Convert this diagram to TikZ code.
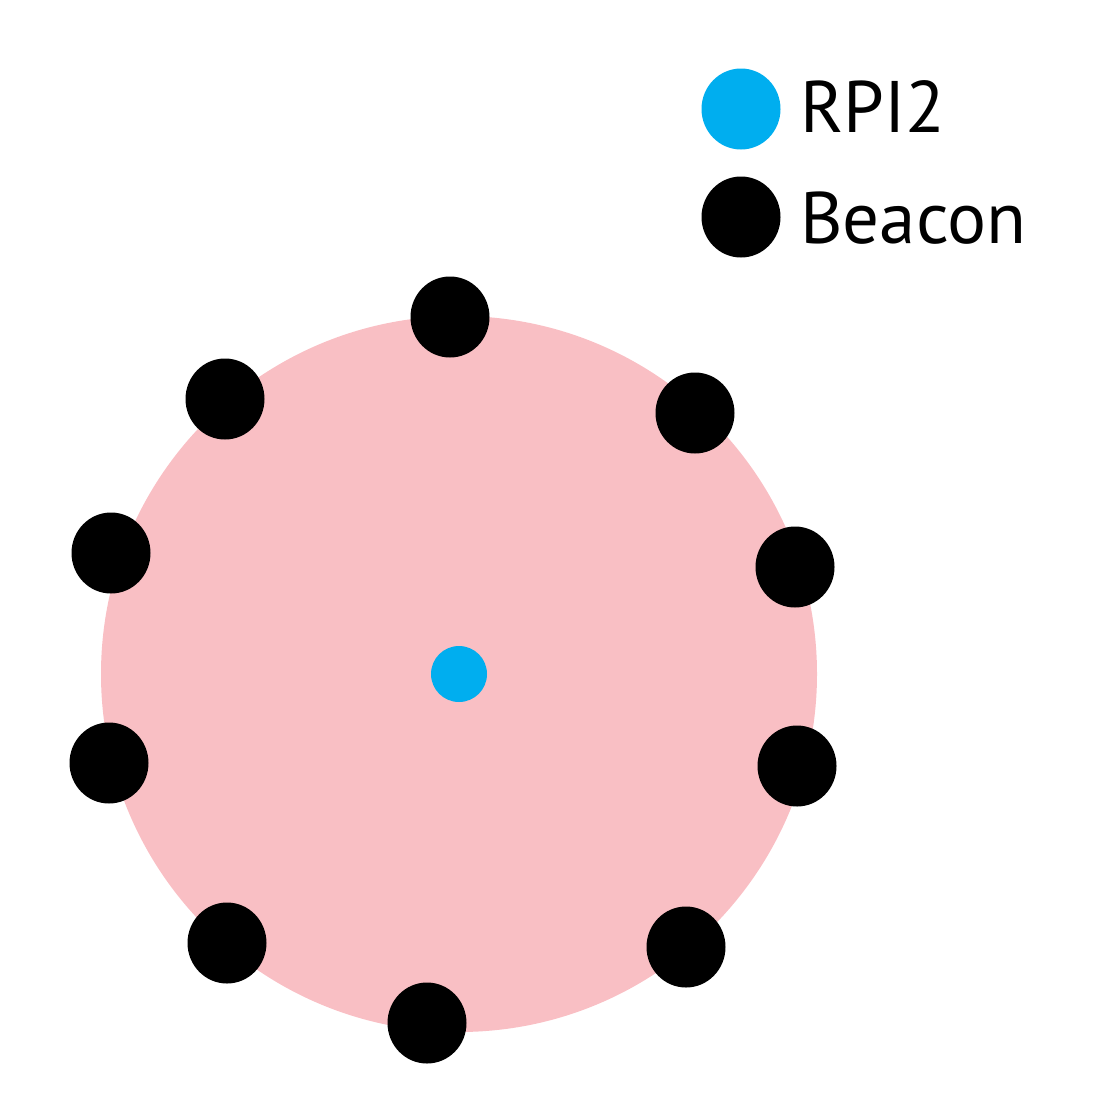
\documentclass[tikz,border=0pt]{standalone}
\usepackage{fontspec}
\setmainfont{PT Sans}
\usepackage{tikz}
\usetikzlibrary{positioning,shapes.geometric}
\definecolor{zonepink} {HTML}{F9BFC4}
\definecolor{rpiblue}  {HTML}{00AEEF}
\tikzset{
  every node/.style={font=\fontsize{73}{80}\selectfont},
  % --- nodes
  zone/.style   = {circle, fill=zonepink, minimum size=716pt, inner sep=0pt},
  blob/.style   = {ellipse, minimum width=79pt, minimum height=81pt, inner sep=0pt},
  beacon/.style = {blob, fill=black},
  rpi/.style    = {circle, fill=rpiblue, minimum size=56pt, inner sep=0pt},
  lgd/.style    = {anchor=base west, inner sep=0pt},
}
\begin{document}
\begin{tikzpicture}[x=1pt, y=-1pt]
  \useasboundingbox (0,0) rectangle (1118,1100);

  \node[zone] (zone) at (459,674) {};
  \node[rpi] (rpi) at (459,674) {};

  % --- beacons round the zone
  \foreach \name/\px/\py in {b1/450/317, b2/225/399, b3/111/553, b4/109/763,
                             b5/227/943, b6/427/1023, b7/686/947, b8/797/766,
                             b9/795/567, b10/695/413}
    \node[beacon] (\name) at (\px,\py) {};

  % --- legend
  \node[blob, fill=rpiblue] (keyrpi) at (741,109) {};
  \node[beacon] (keybeacon) at (741,217) {};
  \node[lgd] (txtrpi) at (800,132) {RPI2};
  \node[lgd] (txtbeacon) at (800,243) {Beacon};
\end{tikzpicture}
\end{document}
